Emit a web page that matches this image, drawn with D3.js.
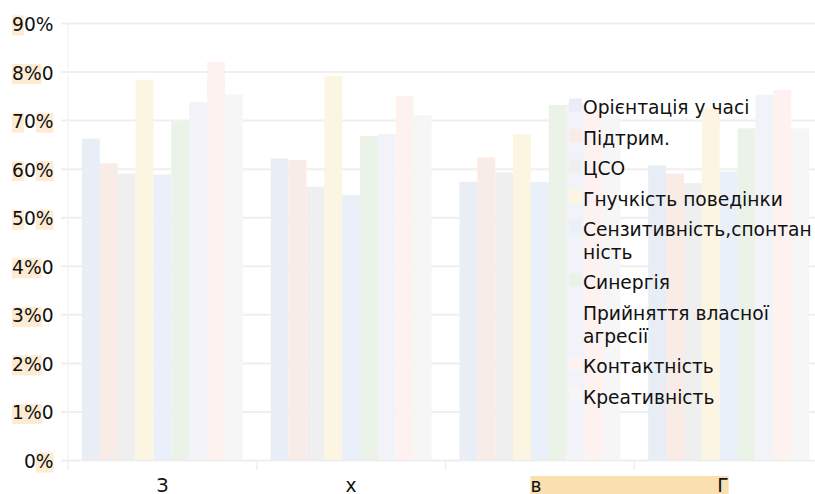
<html>
    <head>
        <meta charset="utf-8">
        <script src="https://d3js.org/d3.v7.min.js"></script>
        <style>
            body { margin: 0; background: #fff; }
            text { font-family: "DejaVu Sans", sans-serif; fill: #111; font-size: 18.67px; }
            .grid line { stroke: #efefef; stroke-width: 2px; }
            .grid path { display: none; }
        </style>
    </head>
    <body>
        <svg id="chart" width="815" height="494"></svg>
        <script>
            // data
            const groups = ["З", "х", "в", "Г"];
            const series = ["Орієнтація у часі", "Підтрим.", "ЦСО", "Гнучкість поведінки",
                            "Сензитивність,спонтанність", "Синергія", "Прийняття власної агресії",
                            "Контактність", "Креативність"];
            const values = [
                [66.2, 61.1, 59.0, 78.3, 58.8, 69.7, 73.7, 82.0, 75.3],
                [62.1, 61.8, 56.3, 79.1, 54.6, 66.7, 67.1, 75.0, 71.0],
                [57.3, 62.3, 59.2, 67.1, 57.3, 73.1, 73.5, 71.8, 71.0],
                [60.7, 59.0, 57.0, 72.4, 59.4, 68.3, 75.2, 76.2, 68.3]
            ];
            const yTicks = [0, 10, 20, 30, 40, 50, 60, 70, 80, 90];
            const yLabels = ["0%", "1%0", "2%0", "3%0", "4%0", "50%", "60%", "70%", "8%0", "90%"];
            // which characters of each tick label carry the marker
            const yMarks = [[1], [0, 1], [0, 1], [0, 1], [0, 1], [0, 2], [0, 2], [0, 2], [0, 1], [0]];
            const colors = ["#e8edf6", "#f9ebe6", "#efefef", "#fcf5e1", "#e9f0f9",
                            "#ebf2e7", "#f2f3f9", "#fdf2ef", "#f6f6f6"];

            const svg = d3.select("#chart");
            const plot = {left: 68, right: 823, top: 23, bottom: 460};

            const x0 = d3.scaleBand().domain(groups).range([plot.left, plot.right]);
            const x1 = d3.scaleBand().domain(series).range([0, x0.bandwidth()]).paddingOuter(0.78);
            const y = d3.scaleLinear().domain([0, 90]).range([plot.bottom, plot.top]);

            // gridlines
            svg.append("g").attr("class", "grid")
               .attr("transform", "translate(" + plot.left + ",0)")
               .call(d3.axisLeft(y).tickValues(yTicks).tickSize(-(plot.right - plot.left)).tickSizeOuter(0).tickFormat(""))
               .call(g => g.selectAll("line").attr("x1", -7));

            svg.append("line")
               .attr("x1", plot.left).attr("x2", plot.left)
               .attr("y1", plot.top).attr("y2", plot.bottom)
               .attr("stroke", "#f4f4f4").attr("stroke-width", 1.5);

            // x ticks between groups
            svg.selectAll("line.xtick").data(groups.concat(["end"]))
               .join("line")
               .attr("class", "xtick")
               .attr("x1", (d, i) => plot.left + i * x0.step())
               .attr("x2", (d, i) => plot.left + i * x0.step())
               .attr("y1", plot.bottom).attr("y2", plot.bottom + 10)
               .attr("stroke", "#efefef").attr("stroke-width", 1.5);

            // bars
            const grp = svg.selectAll("g.group").data(values)
                           .join("g")
                           .attr("class", "group")
                           .attr("transform", (d, i) => "translate(" + x0(groups[i]) + ",0)");

            grp.selectAll("rect")
               .data(d => d.map((v, j) => ({name: series[j], value: v, color: colors[j]})))
               .join("rect")
               .attr("x", d => x1(d.name))
               .attr("width", x1.bandwidth())
               .attr("y", d => y(d.value))
               .attr("height", d => y(0) - y(d.value))
               .attr("fill", d => d.color);

            // y labels with marked characters
            const yl = svg.append("g");
            yTicks.forEach((t, i) => {
                const base = y(t) + 8;
                const mk = yl.append("g");
                const txt = yl.append("text")
                              .attr("x", 53.5).attr("y", base)
                              .attr("text-anchor", "end")
                              .text(yLabels[i]);
                const node = txt.node();
                yMarks[i].forEach(c => {
                    const s = node.getStartPositionOfChar(c).x;
                    const e = node.getEndPositionOfChar(c).x;
                    mk.append("rect")
                      .attr("x", s).attr("y", base - 15.5)
                      .attr("width", e - s).attr("height", 20)
                      .attr("fill", "#fdebd3");
                });
            });

            // x labels
            const xBase = 491.5;
            const mid = g => x0(g) + x0.bandwidth() / 2;
            const xl = svg.append("g");
            const hl = xl.append("rect").attr("fill", "#fadfb0");
            xl.selectAll("text").data(groups)
              .join("text")
              .attr("x", (d, i) => i < 2 ? mid(d) : (i == 2 ? mid(d) - 9.5 : mid(d)))
              .attr("y", xBase)
              .attr("text-anchor", (d, i) => i < 2 ? "middle" : (i == 2 ? "start" : "end"))
              .text(d => d);
            hl.attr("x", mid(groups[2]) - 9.5).attr("y", 476)
              .attr("width", mid(groups[3]) - mid(groups[2]) + 9.5).attr("height", 20);

            // legend
            const legend = svg.append("g");
            const maxW = 234;
            let rowTop = 100.5;
            series.forEach((name, i) => {
                const item = legend.append("g");
                item.append("rect")
                    .attr("x", 569).attr("y", rowTop - 2)
                    .attr("width", 13).attr("height", 13)
                    .attr("fill", colors[i]);
                const t = item.append("text")
                              .attr("x", 583).attr("y", rowTop + 13.8);
                // wrap words, break long words by characters
                let lines = [];
                let cur = "";
                const fits = s => { t.text(s); return t.node().getComputedTextLength() <= maxW; };
                name.split(" ").forEach(w => {
                    const tryS = cur ? cur + " " + w : w;
                    if (fits(tryS)) { cur = tryS; return; }
                    if (cur) { lines.push(cur); cur = ""; }
                    let piece = "";
                    for (const ch of w) {
                        if (fits(piece + ch)) piece += ch;
                        else { lines.push(piece); piece = ch; }
                    }
                    cur = piece;
                });
                if (cur) lines.push(cur);
                t.text(null);
                lines.forEach((l, k) => {
                    t.append("tspan").attr("x", 583).attr("dy", k == 0 ? 0 : 23).text(l);
                });
                rowTop += 30.4 + (lines.length - 1) * 23;
            });
        </script>
    </body>
</html>
